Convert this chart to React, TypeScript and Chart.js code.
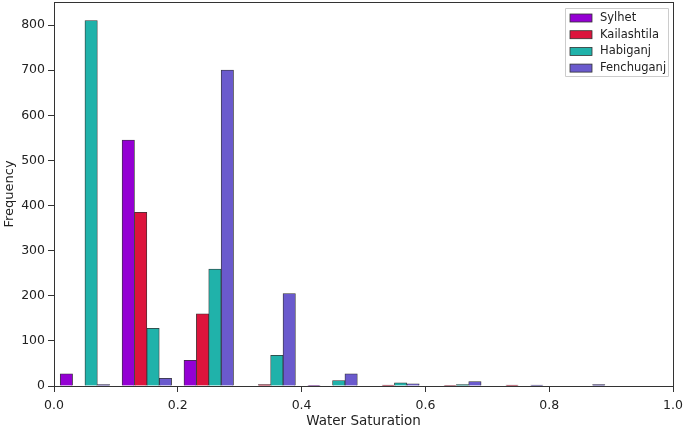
import React, { useEffect, useRef } from "react";
import { Chart, registerables } from "chart.js";

Chart.register(...registerables);

const binStarts = [0.0, 0.1, 0.2, 0.3, 0.4, 0.5, 0.6, 0.7, 0.8, 0.9];
const seriesNames = ["Sylhet", "Kailashtila", "Habiganj", "Fenchuganj"];
const sylhet = [27, 545, 57, 0, 1, 0, 0, 0, 0, 0];
const kailashtila = [0, 385, 160, 3, 0, 2, 1, 2, 0, 0];
const habiganj = [810, 128, 259, 68, 12, 7, 3, 0, 0, 0];
const fenchuganj = [3, 17, 700, 205, 27, 5, 10, 2, 3, 0];
const colors = ["#9400D3", "#DC143C", "#20B2AA", "#6A5ACD"];
const xTicks = [0, 0.2, 0.4, 0.6, 0.8, 1.0];
const yTicks = [0, 100, 200, 300, 400, 500, 600, 700, 800];

const FONT = "DejaVu Sans";

const framePlugin = {
  id: "frame",
  afterDraw(chart: any) {
    const { ctx, chartArea } = chart;
    ctx.save();
    ctx.strokeStyle = "#333";
    ctx.lineWidth = 1;
    ctx.strokeRect(
      Math.round(chartArea.left) + 0.5,
      Math.round(chartArea.top) + 0.5,
      Math.round(chartArea.right - chartArea.left),
      Math.round(chartArea.bottom - chartArea.top)
    );
    // legend
    const x0 = chartArea.right - 108;
    const y0 = chartArea.top + 6;
    const w = 103;
    const h = 68;
    ctx.fillStyle = "rgba(255,255,255,0.8)";
    ctx.strokeStyle = "#ccc";
    ctx.lineWidth = 1;
    ctx.beginPath();
    ctx.rect(x0 + 0.5, y0 + 0.5, w, h);
    ctx.fill();
    ctx.stroke();
    ctx.font = `11.5px '${FONT}'`;
    ctx.textBaseline = "middle";
    chart.data.datasets.forEach((ds: any, i: number) => {
      const cy = y0 + 10 + i * 16.7;
      ctx.fillStyle = ds.backgroundColor;
      ctx.fillRect(x0 + 5, cy - 4, 22, 8);
      ctx.strokeStyle = "#333";
      ctx.lineWidth = 0.8;
      ctx.strokeRect(x0 + 5, cy - 4, 22, 8);
      ctx.fillStyle = "#222";
      ctx.fillText(ds.label, x0 + 35, cy);
    });
    ctx.restore();
  },
};

export default function App() {
  const ref = useRef<HTMLCanvasElement>(null);
  useEffect(() => {
    document.body.style.margin = "0";
    const all = [sylhet, kailashtila, habiganj, fenchuganj];
    const datasets = all.map((vals, i) => ({
      label: seriesNames[i],
      data: binStarts.map((b, k) => ({ x: b + 0.02 + 0.02 * i, y: vals[k] })),
      backgroundColor: colors[i],
      borderColor: "#333",
      borderWidth: 0.8,
      borderSkipped: "bottom" as const,
      grouped: false,
      barPercentage: 1,
      categoryPercentage: 1,
    }));
    const chart = new Chart(ref.current!, {
      type: "bar",
      data: { datasets },
      plugins: [framePlugin],
      options: {
        animation: false,
        responsive: false,
        maintainAspectRatio: false,
        layout: { padding: { top: 2, right: 12, left: 2, bottom: 0 } },
        plugins: { legend: { display: false }, tooltip: { enabled: false } },
        scales: {
          x: {
            type: "linear",
            min: 0,
            max: 1,
            offset: false,
            afterBuildTicks: (s: any) => {
              s.ticks = xTicks.map((v) => ({ value: v }));
            },
            afterFit: (s: any) => {
              s.height = 42;
              s.paddingLeft = 0;
              s.paddingRight = 0;
            },
            grid: {
              offset: false,
              drawOnChartArea: false,
              drawTicks: true,
              tickLength: 6,
              tickColor: "#333",
              color: "#333",
            },
            border: { display: false },
            ticks: {
              color: "#222",
              font: { family: FONT, size: 12.5 },
              padding: 6,
              maxRotation: 0,
              callback: (v: any) => Number(v).toFixed(1),
            },
            title: {
              display: true,
              text: "Water Saturation",
              color: "#222",
              font: { family: FONT, size: 13.5 },
              padding: { top: 0, bottom: -2 },
            },
          },
          y: {
            min: 0,
            max: 851,
            afterBuildTicks: (s: any) => {
              s.ticks = yTicks.map((v) => ({ value: v }));
            },
            afterFit: (s: any) => {
              s.width = 52;
              s.paddingTop = 0;
              s.paddingBottom = 0;
            },
            grid: {
              offset: false,
              drawOnChartArea: false,
              drawTicks: true,
              tickLength: 6,
              tickColor: "#333",
              color: "#333",
            },
            border: { display: false },
            ticks: {
              color: "#222",
              font: { family: FONT, size: 12.5 },
              padding: 3,
            },
            title: {
              display: true,
              text: "Frequency",
              color: "#222",
              font: { family: FONT, size: 13 },
              padding: { top: 0, bottom: 0 },
            },
          },
        },
      },
    });
    return () => chart.destroy();
  }, []);
  return <canvas ref={ref} width={685} height={428} style={{ display: "block" }} />;
}
